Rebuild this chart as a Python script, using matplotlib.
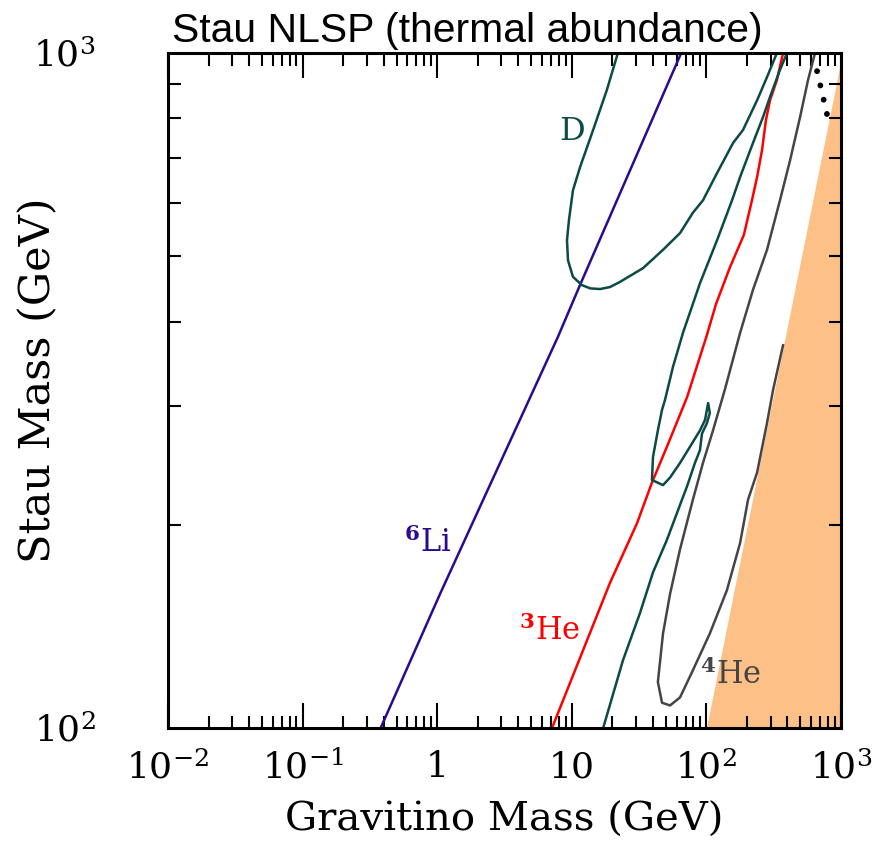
import matplotlib
matplotlib.use("Agg")
import matplotlib.pyplot as plt
from matplotlib.ticker import FixedLocator, LogLocator, NullFormatter

# Curves: gravitino mass (GeV) vs stau mass (GeV)
li6_grav = [0.38, 1.05, 2.2, 7.9, 11.5, 65]
li6_stau = [100, 158, 218, 380, 453, 1000]

he3_grav = [7.13, 13.0, 19.2, 30.5, 39.4, 50.9, 71.8, 100, 118, 150, 190, 218,
            238, 259, 277, 297, 334, 371]
he3_stau = [100, 135, 164, 201, 231, 261, 309, 380, 425, 482, 538, 605,
            655, 718, 796, 851, 912, 1000]

# D: upper closed tongue
d_up_grav = [22, 18.2, 14.4, 11.5, 10.2, 9.53, 9.21, 9.37, 10.2, 11.9, 13.7, 16.2,
             19.2, 22.8, 33.8, 47.6, 63.7, 79.4, 94.3, 120, 158, 187, 238, 282, 334]
d_up_stau = [1000, 881, 769, 677, 626, 566, 528, 493, 466, 453, 448, 447,
             450, 458, 480, 511, 541, 580, 605, 664, 736, 769, 851, 921, 1000]

# D: lower curve with the narrow hairpin
d_lo_grav = [397, 352, 297, 263, 222, 178, 155, 120, 89.6, 67, 56.5, 49.2, 46.8,
             43.6, 40.1, 39.4, 47.6, 53.7, 63.7, 75.5, 89.6, 97.7, 103, 106, 101,
             92.7, 89.6, 82.2, 71.8, 65.9, 50.9, 40.1, 32.1, 24, 17.1]
d_lo_stau = [1000, 944, 861, 803, 736, 655, 605, 528, 456, 385, 343, 306, 296,
             276, 252, 233, 229, 235, 247, 261, 276, 286, 303, 293, 283,
             273, 258, 247, 228, 218, 190, 170, 148, 126, 100]

he4_grav = [641, 569, 496, 418, 352, 282, 222, 178, 137, 112, 94.3, 79.4, 63.7,
            53.7, 47.6, 43.6, 46.8, 53.7, 63.7, 78.2, 106, 142, 178, 204, 238,
            282, 313, 371]
he4_stau = [1000, 912, 803, 693, 605, 511, 446, 385, 317, 276, 247, 218, 184,
            158, 138, 117, 109, 108, 111, 121, 138, 160, 188, 218, 239,
            283, 317, 369]

# dotted black piece near the top right corner
dot_grav = [664, 800]
dot_stau = [940, 800]

# excluded region (gravitino heavier than stau)
excl_grav = [100, 1000]
excl_stau = [100, 975]

x_ticks = [1e-2, 1e-1, 1, 10, 1e2, 1e3]
x_labels = [r"$10^{-2}$", r"$10^{-1}$", "1", "10", r"$10^{2}$", r"$10^{3}$"]
y_ticks = [100, 1000]
y_labels = [r"$10^{2}$", r"$10^{3}$"]

plt.rcParams["mathtext.fontset"] = "dejavuserif"
plt.rcParams["font.family"] = "DejaVu Serif"

c_d = "#0b4a46"
c_li = "#2a0a90"
c_he3 = "#ff0000"
c_he4 = "#454545"

fig = plt.figure(figsize=(8.8, 8.43), dpi=100)
ax = fig.add_axes([168 / 880, 1 - 728 / 843, 673 / 880, 675 / 843])

# 1. excluded region
ax.fill_betweenx(excl_stau, excl_grav, 1000, color="#fdc086", lw=0, zorder=1)

# 2. contours
lw = 1.8
ax.plot(li6_grav, li6_stau, color=c_li, lw=lw, zorder=2)
ax.plot(he3_grav, he3_stau, color=c_he3, lw=lw, zorder=2)
ax.plot(d_up_grav, d_up_stau, color=c_d, lw=lw, zorder=2)
ax.plot(d_lo_grav, d_lo_stau, color=c_d, lw=lw, zorder=2)
ax.plot(he4_grav, he4_stau, color=c_he4, lw=lw, zorder=2)
ax.plot(dot_grav, dot_stau, color="black", lw=4.2, linestyle=(0, (0.01, 2.5)),
        dash_capstyle="round", zorder=3)

# 3. labels on the curves
ax.text(10.0, 766, "D", color=c_d, fontsize=23, ha="center", va="center")
ax.text(0.855, 188, r"$^{\mathbf{6}}$Li", color=c_li, fontsize=22, ha="center", va="center")
ax.text(6.78, 139, r"$^{\mathbf{3}}$He", color=c_he3, fontsize=22, ha="center", va="center")
ax.text(150, 120, r"$^{\mathbf{4}}$He", color=c_he4, fontsize=22, ha="center", va="center")

# 4. axes
ax.set_xscale("log")
ax.set_yscale("log")
ax.set_xlim(1e-2, 1e3)
ax.set_ylim(100, 1000)

ax.xaxis.set_major_locator(FixedLocator(x_ticks))
ax.set_xticklabels(x_labels)
ax.xaxis.set_minor_locator(LogLocator(base=10, subs=range(2, 10), numticks=20))
ax.xaxis.set_minor_formatter(NullFormatter())
ax.yaxis.set_major_locator(FixedLocator(y_ticks))
ax.set_yticklabels(y_labels)
ax.yaxis.set_minor_locator(LogLocator(base=10, subs=range(2, 10), numticks=20))
ax.yaxis.set_minor_formatter(NullFormatter())

ax.tick_params(which="both", direction="in", top=True, right=True, width=1.5)
ax.tick_params(which="major", length=18)
ax.tick_params(which="minor", length=9)
ax.tick_params(axis="x", which="major", labelsize=26, pad=16)
ax.tick_params(axis="y", which="major", labelsize=26, pad=52, length=0)
for s in ax.spines.values():
    s.set_linewidth(2.2)

fig.text(504 / 880, 1 - 820 / 843, "Gravitino Mass (GeV)", fontsize=29,
         ha="center", va="center")
fig.text(38 / 880, 1 - 380 / 843, "Stau Mass (GeV)", fontsize=31,
         ha="center", va="center", rotation=90)
fig.text(172 / 880, 1 - 42 / 843, "Stau NLSP (thermal abundance)", fontsize=29.4,
         family="Liberation Sans", ha="left", va="baseline")

fig.savefig("out.png", dpi=100)
plt.close(fig)
